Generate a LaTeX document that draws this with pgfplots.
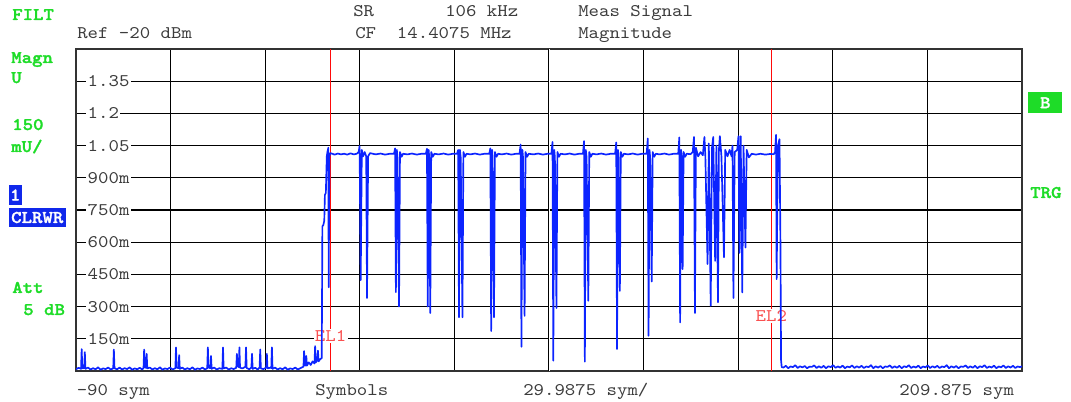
\documentclass[border=0pt]{standalone}
\usepackage{fontspec}
\setmainfont{Liberation Mono}
\newfontfamily\crn{lmmono10-regular.otf}[FakeStretch=1.12]
\newfontfamily\crnb{lmmonolt10-bold.otf}[FakeStretch=1.12, FakeBold=1.6]
\usepackage{pgfplots}
\pgfplotsset{compat=1.18}
\definecolor{trace}{RGB}{12,36,255}
\definecolor{fsgreen}{RGB}{30,220,40}
\definecolor{fsblue}{RGB}{16,40,235}
\definecolor{txt}{RGB}{60,60,60}
\definecolor{mk}{RGB}{255,10,10}
\definecolor{mklab}{RGB}{250,80,80}
\newcommand\tx[4][txt]{\node[anchor=base west, inner sep=0pt, text=#1] at ({#2*0.75pt},{(402-#3)*0.75pt}) {#4};}
\newcommand\gx[3]{\node[anchor=base west, inner sep=0pt, text=fsgreen, font=\fontsize{13.3pt}{15pt}\crnb] at ({#1*0.75pt},{(402-#2)*0.75pt}) {#3};}
\newcommand\bx[6]{\fill[#5] ({#1*0.75pt},{(402-#2)*0.75pt}) rectangle ({#3*0.75pt},{(402-#4)*0.75pt});
  \node[text=white, inner sep=0pt, font=\fontsize{13.3pt}{15pt}\crnb] at ({(#1+#3)/2*0.75pt},{(402-(#2+#4)/2)*0.75pt}) {#6};}
\begin{document}
\begin{tikzpicture}[font=\fontsize{13.3pt}{15pt}\crn]
\path[use as bounding box] (0,0) rectangle (803.25pt,301.5pt);
\begin{axis}[
  at={(57pt,23.25pt)}, anchor=south west,
  scale only axis, width=709.5pt, height=241.5pt,
  xmin=-90, xmax=209.875, ymin=0, ymax=1.5,
  xtick={-90,-60.0125,-30.025,-0.0375,29.95,59.9375,89.925,119.9125,149.9,179.8875,209.875},
  xticklabels={},
  ytick={0.15,0.3,0.45,0.6,0.75,0.9,1.05,1.2,1.35},
  yticklabels={150m,300m,450m,600m,750m,900m,1.05,1.2,1.35},
  yticklabel style={anchor=west, xshift=7.6pt, fill=white, inner sep=1pt, text=txt, font=\fontsize{13.3pt}{15pt}\crn},
  major tick length=0pt,
  grid=major,
  major grid style={black, line width=1pt},
  axis line style={draw=black!80, line width=1.8pt},
]
% markers
\addplot[mk, line width=0.8pt, forget plot] coordinates {(-9.3,0) (-9.3,1.5)};
\addplot[mk, line width=0.8pt, forget plot] coordinates {(130.4,0) (130.4,1.5)};
\node[fill=white, text=mklab, inner sep=1pt] at (axis cs:-9.3,0.164) {EL1};
\node[fill=white, text=mklab, inner sep=1pt] at (axis cs:130.4,0.257) {EL2};
% double middle line
\draw[black, line width=0.75pt, double=white, double distance=0.7pt] (axis cs:59.9375,0) -- (axis cs:59.9375,1.5);
% trace
\addplot[trace, line width=1.25pt, line join=round] coordinates {
(-90,0.008)(-89.2,0.015)(-88.4,0.010)(-88.2,0.102)(-88.0,0.012)(-87.4,0.014)(-87.2,0.088)(-87.0,0.010)
(-86.2,0.016)(-85.4,0.007)(-84.6,0.013)(-83.8,0.008)(-83.0,0.017)(-82.2,0.006)(-81.4,0.012)(-80.6,0.009)
(-79.8,0.016)(-79.0,0.007)(-78.2,0.012)(-78.0,0.100)(-77.8,0.013)(-77.0,0.008)(-76.2,0.016)(-75.4,0.007)
(-74.6,0.013)(-73.8,0.009)(-73.0,0.017)(-72.2,0.006)(-71.4,0.012)(-70.6,0.008)(-69.8,0.015)(-69.0,0.007)
(-68.6,0.014)(-68.4,0.100)(-68.2,0.018)(-67.8,0.015)(-67.6,0.080)(-67.4,0.012)(-66.6,0.016)(-65.8,0.007)
(-65.0,0.013)(-64.2,0.008)(-63.4,0.017)(-62.6,0.006)(-61.8,0.012)(-61.0,0.009)(-60.2,0.016)(-59.4,0.007)
(-58.5,0.013)(-58.3,0.110)(-58.1,0.016)(-57.5,0.013)(-57.3,0.074)(-57.1,0.010)(-56.3,0.016)(-55.5,0.007)
(-54.7,0.013)(-53.9,0.008)(-53.1,0.017)(-52.3,0.006)(-51.5,0.012)(-50.7,0.009)(-49.9,0.016)(-49.1,0.007)
(-48.4,0.013)(-48.2,0.110)(-48.0,0.016)(-47.4,0.013)(-47.2,0.070)(-47.0,0.010)(-46.2,0.016)(-45.4,0.007)
(-44.6,0.013)(-43.6,0.010)(-43.4,0.110)(-43.2,0.012)(-42.4,0.016)(-41.6,0.007)(-40.8,0.013)(-40.0,0.009)
(-39.2,0.015)(-39.0,0.080)(-38.8,0.025)(-38.4,0.018)(-38.2,0.110)(-38.0,0.015)(-37.2,0.012)(-36.3,0.020)
(-36.1,0.110)(-35.9,0.014)(-35.1,0.008)(-34.4,0.016)(-34.2,0.080)(-34.0,0.010)(-33.2,0.015)(-32.4,0.007)
(-31.8,0.016)(-31.6,0.100)(-31.4,0.012)(-30.6,0.009)(-29.7,0.016)(-29.5,0.080)(-29.3,0.012)(-28.5,0.015)
(-28.1,0.014)(-27.9,0.110)(-27.7,0.010)(-26.9,0.016)(-26.1,0.007)(-25.3,0.013)(-24.5,0.008)(-23.7,0.017)
(-22.9,0.006)(-22.1,0.012)(-21.3,0.009)(-20.5,0.016)(-19.7,0.007)(-18.9,0.013)(-17.9,0.020)(-17.7,0.093)
(-17.5,0.030)(-17.2,0.025)(-17.0,0.070)(-16.8,0.025)(-16.2,0.040)(-15.6,0.028)(-15.0,0.045)(-14.4,0.035)
(-14.2,0.116)(-14.0,0.040)(-13.5,0.050)(-13.3,0.095)(-13.1,0.045)(-12.6,0.055)(-12.1,0.060)
(-11.9,0.674) (-11.6,0.680) (-11.3,0.700) (-11.1,0.820) (-10.8,0.830) (-10.5,1.000)
(-10.3,1.020) (-10.0,1.040) (-9.9,0.390) (-9.7,1.000) (-9.4,1.015)
(-8,1.008) (-7,1.013) (-6,1.009) (-5,1.012) (-4,1.008) (-3,1.014) (-2,1.009) (-1,1.012)
(-0.4,1.02) (-0.1,1.048) (0.25,0.423) (0.6,1.03) (1.0,1.0) (1.5,1.02) (2.0,1.0) (2.25,0.34) (2.6,1.0) (3.2,1.015)
(5,1.009) (6.5,1.013) (8,1.008) (9.5,1.012)
(10.8,1.012) (11.15,1.037) (11.4,0.367) (11.7,1.03) (11.9,0.995) (12.4,0.30) (12.7,1.02) (13.2,0.998) (13.7,1.012)
(15,1.009) (16.5,1.013) (18,1.008) (19.5,1.012)
(20.9,1.012) (21.25,1.035) (21.5,0.30) (21.8,1.03) (21.95,0.995) (22.3,0.27) (22.6,1.02) (23.1,0.998) (23.6,1.012)
(25,1.009) (26.5,1.013) (28,1.008) (29.5,1.012)
(30.8,1.012) (31.15,1.03) (31.4,0.25) (31.7,1.03) (31.95,0.995) (32.5,0.25) (32.8,1.02) (33.3,0.998) (33.8,1.012)
(35,1.009) (36.5,1.013) (38,1.008) (39.5,1.012)
(41.0,1.012) (41.35,1.037) (41.6,0.186) (41.9,1.03) (42.05,0.995) (42.5,0.25) (42.8,1.02) (43.3,0.998) (43.8,1.012)
(45,1.009) (46.5,1.013) (48,1.008) (49.5,1.012)
(50.6,1.012) (50.95,1.055) (51.2,0.113) (51.5,1.03) (51.7,0.995) (52.2,0.257) (52.5,1.02) (53.0,0.998) (53.5,1.012)
(55,1.009) (56.5,1.013) (58,1.008) (59.5,1.012)
(60.7,1.012) (61.05,1.067) (61.3,0.048) (61.6,1.03) (61.8,0.995) (62.3,0.293) (62.6,1.02) (63.1,0.998) (63.6,1.012)
(65,1.009) (66.5,1.013) (68,1.008) (69.5,1.012)
(70.7,1.012) (71.05,1.071) (71.3,0.043) (71.6,1.03) (71.85,0.995) (72.4,0.327) (72.7,1.02) (73.2,0.998) (73.7,1.012)
(75,1.009) (76.5,1.013) (78,1.008) (79.5,1.012)
(80.9,1.012) (81.25,1.065) (81.5,0.102) (81.8,1.03) (81.95,0.995) (82.4,0.373) (82.7,1.02) (83.2,0.998) (83.7,1.012)
(85,1.009) (86.5,1.013) (88,1.008) (89.5,1.012)
(90.9,1.012) (91.25,1.083) (91.5,0.164) (91.8,1.03) (92.0,0.995) (92.5,0.417) (92.8,1.02) (93.3,0.998) (93.8,1.012)
(95,1.009) (96.5,1.013) (98,1.008) (99.5,1.012)
(100.9,1.012) (101.25,1.088) (101.5,0.226) (101.8,1.03) (101.95,0.995) (102.3,0.474) (102.6,1.02) (103.1,0.998) (103.6,1.012)
(104.8,1.010) (105.5,1.02) (105.9,1.09) (106.2,0.27) (106.5,1.04) (107.2,1.0) (108,1.02) (108.7,1.005)
(109.2,1.09) (109.5,1.0) (110.2,0.498) (110.6,1.06) (111.2,0.304) (111.6,1.04) (112.0,1.09) (112.6,0.513)
(113.0,1.05) (113.5,0.32) (113.8,1.03) (114.1,1.094) (114.6,1.0) (115.4,0.53) (115.8,1.03) (116.5,1.0)
(117.2,1.03) (117.8,1.0) (118.1,1.05) (118.4,0.34) (118.8,1.02) (119.6,1.03) (120.0,1.094) (120.3,0.55)
(120.7,1.094) (121.2,0.366) (121.6,1.05) (122.2,0.575) (122.6,1.03) (123.3,0.995) (124.2,1.012)
(125.5,1.008) (127,1.012) (128.5,1.008) (130,1.011) (131.2,1.01)
(131.6,1.02) (131.9,1.10) (132.1,0.428) (132.5,1.05) (133.0,1.08) (133.3,0.6) (133.5,0.05) (133.7,0.018)
(134.25,0.016)(135,0.024)(135.75,0.013)(136.5,0.021)(137.25,0.018)(138,0.027)(138.75,0.014)(139.5,0.022)
(140.25,0.017)(141,0.023)(141.75,0.013)(142.5,0.020)(143.25,0.019)(144,0.026)(144.75,0.014)(145.5,0.022)
(146.25,0.015)(147,0.024)(147.75,0.013)(148.5,0.022)(149.25,0.018)(150,0.027)(150.75,0.015)(151.5,0.021)
(152.25,0.016)(153,0.025)(153.75,0.013)(154.5,0.021)(155.25,0.017)(156,0.026)(156.75,0.014)(157.5,0.022)
(158.25,0.016)(159,0.024)(159.75,0.014)(160.5,0.021)(161.25,0.018)(162,0.027)(162.75,0.013)(163.5,0.022)
(164.25,0.016)(165,0.023)(165.75,0.013)(166.5,0.021)(167.25,0.019)(168,0.026)(168.75,0.014)(169.5,0.022)
(170.25,0.015)(171,0.024)(171.75,0.013)(172.5,0.022)(173.25,0.018)(174,0.027)(174.75,0.014)(175.5,0.021)
(176.25,0.016)(177,0.025)(177.75,0.013)(178.5,0.021)(179.25,0.017)(180,0.026)(180.75,0.014)(181.5,0.022)
(182.25,0.016)(183,0.024)(183.75,0.014)(184.5,0.021)(185.25,0.018)(186,0.027)(186.75,0.013)(187.5,0.022)
(188.25,0.016)(189,0.023)(189.75,0.013)(190.5,0.021)(191.25,0.019)(192,0.026)(192.75,0.014)(193.5,0.022)
(194.25,0.015)(195,0.024)(195.75,0.013)(196.5,0.022)(197.25,0.018)(198,0.027)(198.75,0.014)(199.5,0.021)
(200.25,0.016)(201,0.025)(201.75,0.013)(202.5,0.021)(203.25,0.017)(204,0.026)(204.75,0.014)(205.5,0.022)
(206.25,0.016)(207,0.024)(207.75,0.014)(208.5,0.021)(209.25,0.018)(209.875,0.022)
};
\end{axis}
% header texts
\gx{12}{20}{FILT}
\tx{77}{38.3}{Ref -20 dBm}
\tx{353}{16.5}{SR}
\tx{445}{16.5}{106 kHz}
\tx{355}{39}{CF}
\tx{396.7}{39}{14.4075 MHz}
\tx{578}{16.5}{Meas Signal}
\tx{578}{39}{Magnitude}
% left side
\gx{11}{63}{Magn}
\gx{11}{83}{U}
\gx{12}{130}{150}
\gx{11}{152}{mU/}
\bx{9}{185}{21.5}{205}{fsblue}{1}
\bx{9}{207.7}{65.5}{227.3}{fsblue}{CLRWR}
\gx{12}{293}{Att}
\gx{23}{315}{5 dB}
% right side
\bx{1028.3}{92.3}{1062.3}{113.3}{fsgreen}{B}
\gx{1030}{198}{TRG}
% bottom
\tx{76.5}{396}{-90 sym}
\tx{315}{396}{Symbols}
\tx{523}{396}{29.9875 sym/}
\tx{899}{396}{209.875 sym}
\end{tikzpicture}
\end{document}
